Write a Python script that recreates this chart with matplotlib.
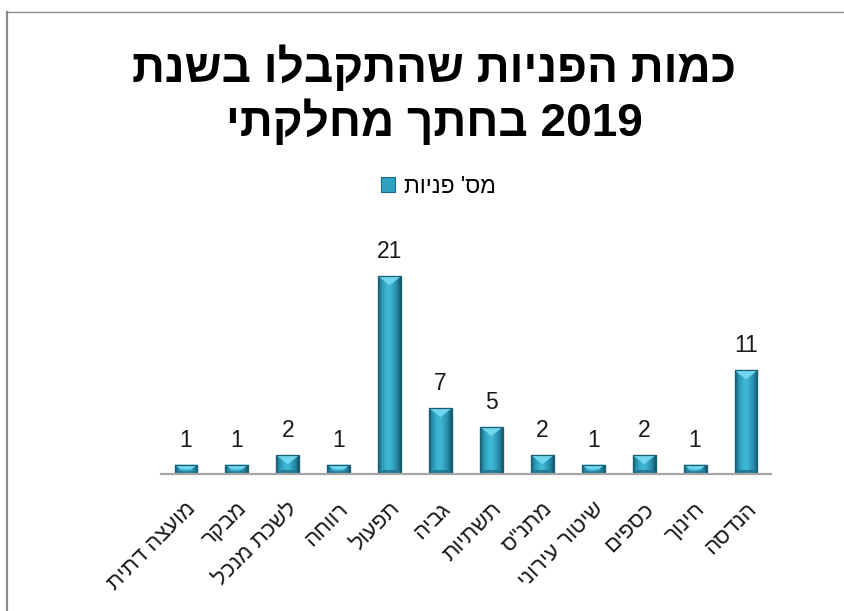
import re
import numpy as np
import matplotlib
matplotlib.use("Agg")
import matplotlib.pyplot as plt
from matplotlib.patches import Polygon, Rectangle
from matplotlib.lines import Line2D
import matplotlib.transforms as mtransforms

# ---------------- data ----------------
title_line1 = "כמות הפניות שהתקבלו בשנת"
title_line2 = "2019 בחתך מחלקתי"
series_name = "מס' פניות"
categories = ["מועצה דתית", "מבקר", "לשכת מנכל", "רווחה", "תפעול", "גביה",
              "תשתיות", 'מתנ"ס', "שיטור עירוני", "כספים", "חינוך", "הנדסה"]
values = [1, 1, 2, 1, 21, 7, 5, 2, 1, 2, 1, 11]


def vis(s):
    """logical (RTL) -> visual order for a LTR renderer"""
    r = s[::-1]
    return re.sub(r"\d+", lambda m: m.group(0)[::-1], r)


FONT = ["Liberation Sans", "DejaVu Sans"]
plt.rcParams["font.family"] = FONT

W, H = 845, 611
fig = plt.figure(figsize=(W / 100, H / 100), dpi=100)
fig.patch.set_facecolor("white")

# outer chart border (left & top visible)
fig.add_artist(Line2D([7 / W, 7 / W], [0, 1 - 11.5 / H], transform=fig.transFigure,
                      color="#8a8a8a", lw=1.6))
fig.add_artist(Line2D([7 / W, 1], [1 - 11.5 / H, 1 - 11.5 / H], transform=fig.transFigure,
                      color="#8a8a8a", lw=1.0))

# axes
ax_left, ax_right = 160.5, 771.5
ax_bottom_px, ax_top_px = 474, 248
ax = fig.add_axes([ax_left / W, 1 - ax_bottom_px / H, (ax_right - ax_left) / W,
                   (ax_bottom_px - ax_top_px) / H])
ax.set_xlim(-0.5, len(categories) - 0.5)
ax.set_ylim(0, 24)
for s in ["left", "right", "top"]:
    ax.spines[s].set_visible(False)
ax.spines["bottom"].set_color("#a6a6a6")
ax.spines["bottom"].set_linewidth(1.6)
ax.set_yticks([])
ax.patch.set_alpha(0)

x = np.arange(len(categories))
bar_w = 0.45
bars = ax.bar(x, values, width=bar_w, color="#2ea2c2", edgecolor="#1a6a82",
              linewidth=0.8, zorder=2, label=vis(series_name))

# pixel -> data conversions
px_y = 24 / (ax_bottom_px - ax_top_px)

# gradient across bar width
grad_cols = np.array([
    [24, 88, 110], [38, 138, 168], [50, 164, 196], [60, 180, 210],
    [62, 184, 214], [54, 170, 200], [44, 150, 180], [34, 126, 154], [22, 84, 104]
]) / 255.0
gx = np.linspace(0, 1, grad_cols.shape[0])
xs = np.linspace(0, 1, 64)
grad = np.stack([np.interp(xs, gx, grad_cols[:, c]) for c in range(3)], axis=-1)[None, :, :]

for b in bars:
    x0, w, h = b.get_x(), b.get_width(), b.get_height()
    x1 = x0 + w
    xc = x0 + w / 2
    im = ax.imshow(grad, extent=[x0, x1, 0, h], aspect="auto", zorder=2.1,
                   interpolation="bilinear")
    im.set_clip_path(b)
    # top bevel
    full = 9 * px_y
    d = min(full, h * 0.5)
    ix = (w / 2) * (1 - d / full)
    ax.add_patch(Polygon([(x0, h), (x1, h), (xc + ix, h - d), (xc - ix, h - d)],
                         closed=True, facecolor="#72d6ee", edgecolor="none",
                         zorder=2.2))
    # bottom shade
    db = min(4 * px_y, h * 0.3)
    ixb = (w / 2) * (1 - db / (9 * px_y))
    ax.add_patch(Polygon([(x0, 0), (x1, 0), (xc + ixb, db), (xc - ixb, db)],
                         closed=True, facecolor="#1d6f88", edgecolor="none",
                         alpha=0.8, zorder=2.2))
    ax.add_patch(Rectangle((x0, 0), w, h, facecolor="none", edgecolor="#1a5f74",
                           lw=0.9, zorder=2.3))

# data labels
for b, v in zip(bars, values):
    ax.annotate(str(v), (b.get_x() + b.get_width() / 2, b.get_height()),
                xytext=(0, 18), textcoords="offset pixels", ha="center",
                va="baseline", fontsize=16.5, color="#1a1a1a", zorder=3)

# category labels
ax.set_xticks(x)
ax.set_xticklabels([vis(c) for c in categories], rotation=45, ha="right",
                   va="center", rotation_mode="anchor", fontsize=16,
                   color="#1a1a1a")
ax.tick_params(axis="x", length=0, pad=23)
offset = mtransforms.ScaledTranslation(7 / 100, 0, fig.dpi_scale_trans)
for lab in ax.get_xticklabels():
    lab.set_transform(lab.get_transform() + offset)

# title
tx = 434 / W
fig.text(tx, 1 - 82 / H, vis(title_line1), ha="center", va="baseline",
         fontsize=33, fontweight="bold", color="#000000")
fig.text(tx, 1 - 136 / H, vis(title_line2), ha="center", va="baseline",
         fontsize=33, fontweight="bold", color="#000000")

# legend
leg = fig.legend(handles=[bars], labels=[vis(series_name)], loc="center",
                 bbox_to_anchor=(438 / W, 1 - 186 / H), frameon=False,
                 fontsize=16.5, handlelength=0.65, handleheight=0.65,
                 handletextpad=0.35)

fig.savefig("out.png", dpi=100)
